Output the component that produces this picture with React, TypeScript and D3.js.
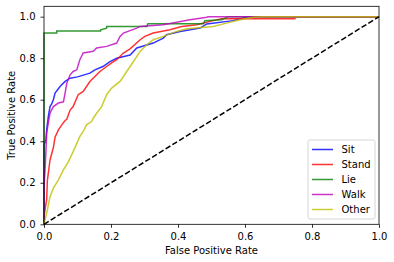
import { useEffect, useRef } from 'react';
import * as d3 from 'd3';

// [FPR, TPR] pairs
const sit: [number, number][] = [
  [0, 0], [0, 0.38], [0.006, 0.41], [0.008, 0.455], [0.013, 0.52], [0.018, 0.567], [0.023, 0.58],
  [0.028, 0.6], [0.033, 0.632], [0.048, 0.664], [0.063, 0.688], [0.078, 0.704], [0.1, 0.71],
  [0.137, 0.728], [0.152, 0.744], [0.176, 0.76], [0.197, 0.784], [0.217, 0.8], [0.257, 0.815],
  [0.277, 0.849], [0.326, 0.873], [0.356, 0.897], [0.366, 0.913], [0.406, 0.929], [0.466, 0.945],
  [0.486, 0.965], [0.565, 0.981], [0.605, 0.997], [0.62, 1], [1, 1],
];
const stand: [number, number][] = [
  [0, 0], [0, 0.04], [0.003, 0.07], [0.008, 0.12], [0.01, 0.21], [0.018, 0.31], [0.028, 0.37],
  [0.033, 0.42], [0.043, 0.455], [0.053, 0.479], [0.063, 0.5], [0.068, 0.506], [0.078, 0.55],
  [0.087, 0.567], [0.102, 0.624], [0.117, 0.64], [0.137, 0.688], [0.152, 0.712], [0.167, 0.736],
  [0.187, 0.76], [0.202, 0.777], [0.217, 0.793], [0.237, 0.825], [0.257, 0.845], [0.287, 0.889],
  [0.301, 0.905], [0.326, 0.921], [0.376, 0.937], [0.411, 0.953], [0.456, 0.961], [0.505, 0.981],
  [0.53, 0.99], [0.749, 0.99], [0.749, 1], [1, 1],
];
const lie: [number, number][] = [
  [0, 0], [0, 0.921], [0.038, 0.921], [0.038, 0.931], [0.169, 0.931], [0.169, 0.937], [0.187, 0.945],
  [0.187, 0.953], [0.307, 0.953], [0.31, 0.966], [0.476, 0.966], [0.48, 0.98], [0.53, 0.985],
  [0.55, 1], [1, 1],
];
const walk: [number, number][] = [
  [0, 0], [0, 0.18], [0.003, 0.26], [0.006, 0.36], [0.008, 0.44], [0.013, 0.49], [0.018, 0.536],
  [0.028, 0.567], [0.043, 0.584], [0.058, 0.59], [0.063, 0.632], [0.068, 0.68], [0.078, 0.72],
  [0.087, 0.736], [0.098, 0.744], [0.107, 0.793], [0.117, 0.825], [0.147, 0.833], [0.157, 0.849],
  [0.187, 0.857], [0.217, 0.873], [0.227, 0.905], [0.237, 0.921], [0.277, 0.945], [0.287, 0.953],
  [0.356, 0.961], [0.436, 0.985], [0.486, 0.997], [0.49, 1], [1, 1],
];
const other: [number, number][] = [
  [0, 0], [0.003, 0.02], [0.01, 0.069], [0.018, 0.133], [0.028, 0.174], [0.043, 0.214],
  [0.058, 0.262], [0.073, 0.302], [0.087, 0.35], [0.098, 0.39], [0.107, 0.423], [0.117, 0.447],
  [0.127, 0.479], [0.142, 0.495], [0.147, 0.511], [0.157, 0.535], [0.172, 0.567], [0.187, 0.624],
  [0.202, 0.656], [0.227, 0.688], [0.247, 0.736], [0.267, 0.784], [0.287, 0.833], [0.307, 0.865],
  [0.326, 0.889], [0.356, 0.905], [0.396, 0.929], [0.426, 0.942], [0.505, 0.953], [0.545, 0.969],
  [0.585, 0.985], [0.625, 0.997], [0.65, 1], [1, 1],
];

const labels = ['Sit', 'Stand', 'Lie', 'Walk', 'Other'];
const colors = ['#0000ff', '#ff0000', '#008000', '#bf00bf', '#bfbf00'];
const ticks = [0, 0.2, 0.4, 0.6, 0.8, 1.0];

export default function App() {
  const ref = useRef<SVGSVGElement>(null);
  const width = 394;
  const height = 262;

  useEffect(() => {
    if (!ref.current) return;
    const svg = d3.select(ref.current);
    svg.selectAll('*').remove();

    const margin = { top: 6.3, right: 15, bottom: 37.7, left: 44 };
    const w = width - margin.left - margin.right;
    const h = height - margin.top - margin.bottom;

    const x = d3.scaleLinear().domain([0, 1]).range([0, w]);
    const y = d3.scaleLinear().domain([0, 1.05]).range([h, 0]);

    const g = svg.append('g').attr('transform', `translate(${margin.left},${margin.top})`);
    g.append('rect').attr('width', w).attr('height', h).attr('fill', '#fff');

    const line = d3
      .line<[number, number]>()
      .x((d) => x(d[0]))
      .y((d) => y(d[1]));

    const series = [sit, stand, lie, walk, other];
    series.forEach((s, i) => {
      g.append('path')
        .datum(s)
        .attr('fill', 'none')
        .attr('stroke', colors[i])
        .attr('stroke-opacity', 0.8)
        .attr('stroke-width', 1.5)
        .attr('d', line);
    });

    // chance diagonal
    g.append('path')
      .datum([[0, 0], [1, 1]] as [number, number][])
      .attr('fill', 'none')
      .attr('stroke', '#000')
      .attr('stroke-width', 1.5)
      .attr('stroke-dasharray', '5.55 2.4')
      .attr('d', line);

    const font = 'DejaVu Sans, sans-serif';
    const fmt = d3.format('.1f');

    const xAxis = g
      .append('g')
      .attr('transform', `translate(0,${h})`)
      .call(d3.axisBottom(x).tickValues(ticks).tickFormat(fmt).tickSize(3.5).tickPadding(5.5));
    const yAxis = g
      .append('g')
      .call(d3.axisLeft(y).tickValues(ticks).tickFormat(fmt).tickSize(3.5).tickPadding(5));
    [xAxis, yAxis].forEach((a) => {
      a.select('.domain').remove();
      a.selectAll('line').attr('stroke', '#000').attr('stroke-width', 0.8);
      a.selectAll('text').attr('font-family', font).attr('font-size', 10).attr('fill', '#000');
    });

    g.append('rect')
      .attr('width', w)
      .attr('height', h)
      .attr('fill', 'none')
      .attr('stroke', '#000')
      .attr('stroke-width', 0.8);

    svg.append('text')
      .attr('x', margin.left + w / 2)
      .attr('y', 254)
      .attr('text-anchor', 'middle')
      .attr('font-family', font)
      .attr('font-size', 10)
      .text('False Positive Rate');
    svg.append('text')
      .attr('transform', `translate(14.5,${margin.top + h / 2}) rotate(-90)`)
      .attr('text-anchor', 'middle')
      .attr('font-family', font)
      .attr('font-size', 10)
      .text('True Positive Rate');

    // legend, lower right
    const lg = svg.append('g').attr('transform', `translate(308,140)`);
    lg.append('rect')
      .attr('width', 67)
      .attr('height', 79)
      .attr('rx', 2)
      .attr('fill', '#fff')
      .attr('fill-opacity', 0.8)
      .attr('stroke', '#cccccc')
      .attr('stroke-width', 0.8);
    labels.forEach((lab, i) => {
      const cy = 9.5 + i * 15;
      lg.append('line')
        .attr('x1', 4)
        .attr('x2', 25)
        .attr('y1', cy)
        .attr('y2', cy)
        .attr('stroke', colors[i])
        .attr('stroke-opacity', 0.8)
        .attr('stroke-width', 1.5);
      lg.append('text')
        .attr('x', 33.5)
        .attr('y', cy + 3.6)
        .attr('font-family', font)
        .attr('font-size', 10)
        .text(lab);
    });
  }, []);

  return (
    <svg
      ref={ref}
      width={width}
      height={height}
      style={{ position: 'absolute', left: 0, top: 0, background: '#fff' }}
    />
  );
}
